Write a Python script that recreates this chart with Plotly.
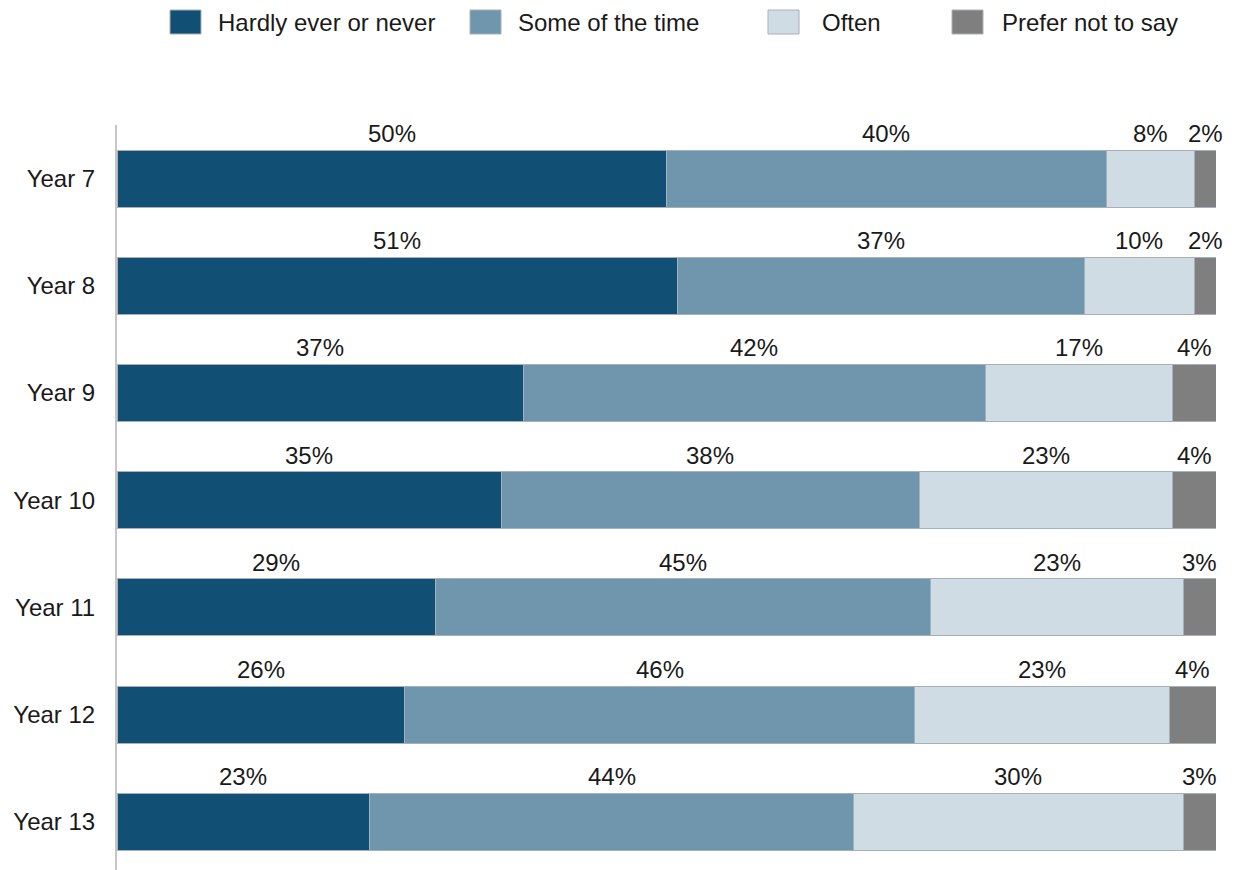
import plotly.graph_objects as go

# Survey responses by school year (percent of pupils)
years = ["Year 7", "Year 8", "Year 9", "Year 10", "Year 11", "Year 12", "Year 13"]
hardly_ever = [50, 51, 37, 35, 29, 26.2, 23]
some_of_time = [40, 37, 42, 38, 45, 46.4, 44]
often = [8, 10, 17, 23, 23, 23.2, 30]
prefer_not = [2, 2, 4, 4, 3, 4.2, 3]

series_names = ["Hardly ever or never", "Some of the time", "Often", "Prefer not to say"]
series_values = [hardly_ever, some_of_time, often, prefer_not]
colors = ["#114f74", "#7096ae", "#cfdce4", "#7f7f7f"]

FONT = "Liberation Sans, Arial, sans-serif"
FSIZE = 24

fig = go.Figure()
for name, vals, col in zip(series_names, series_values, colors):
    fig.add_trace(go.Bar(
        y=years, x=vals, name=name, orientation="h",
        marker=dict(color=col, line=dict(color="#a7b0b8", width=1)),
        showlegend=False, hoverinfo="x+name",
    ))

# Percentage labels sitting above each segment
annotations = []
for i, yr in enumerate(years):
    start = 0
    for vals in series_values:
        v = vals[i]
        annotations.append(dict(
            x=start + v / 2, y=yr, xref="x", yref="y",
            text=f"{round(v)}%", showarrow=False,
            yanchor="middle", yshift=45,
            font=dict(family=FONT, size=FSIZE, color="#1a1a1a"),
        ))
        start += v

# Custom legend row across the top
L, W = 117, 1099
T, H = 125, 745
legend_items = [(170, 216), (470, 516), (768, 820), (952, 1000)]
shapes = []
for (sx, tx), name, col in zip(legend_items, series_names, colors):
    shapes.append(dict(
        type="rect", xref="paper", yref="paper",
        x0=(sx - L) / W, x1=(sx + 31 - L) / W,
        y0=1 + (T - 34) / H, y1=1 + (T - 10) / H,
        fillcolor=col, line=dict(color="#a7b0b8", width=1),
    ))
    annotations.append(dict(
        x=(tx - L) / W, y=1 + (T - 22) / H, xref="paper", yref="paper",
        text=name, showarrow=False, xanchor="left", yanchor="middle",
        font=dict(family=FONT, size=FSIZE, color="#1a1a1a"),
    ))

fig.update_layout(
    barmode="stack",
    bargap=0.468,
    width=1249, height=870,
    margin=dict(l=117, r=33, t=125, b=0),
    paper_bgcolor="white", plot_bgcolor="white",
    xaxis=dict(range=[0, 100], visible=False, fixedrange=True),
    yaxis=dict(
        range=[6.45, -0.5], showgrid=False, zeroline=False,
        showline=True, linecolor="#c6c6c6", linewidth=2,
        ticks="", ticklabelstandoff=15,
        tickfont=dict(family=FONT, size=FSIZE, color="#1a1a1a"),
    ),
    annotations=annotations,
    shapes=shapes,
)

fig.write_html("out.html")
